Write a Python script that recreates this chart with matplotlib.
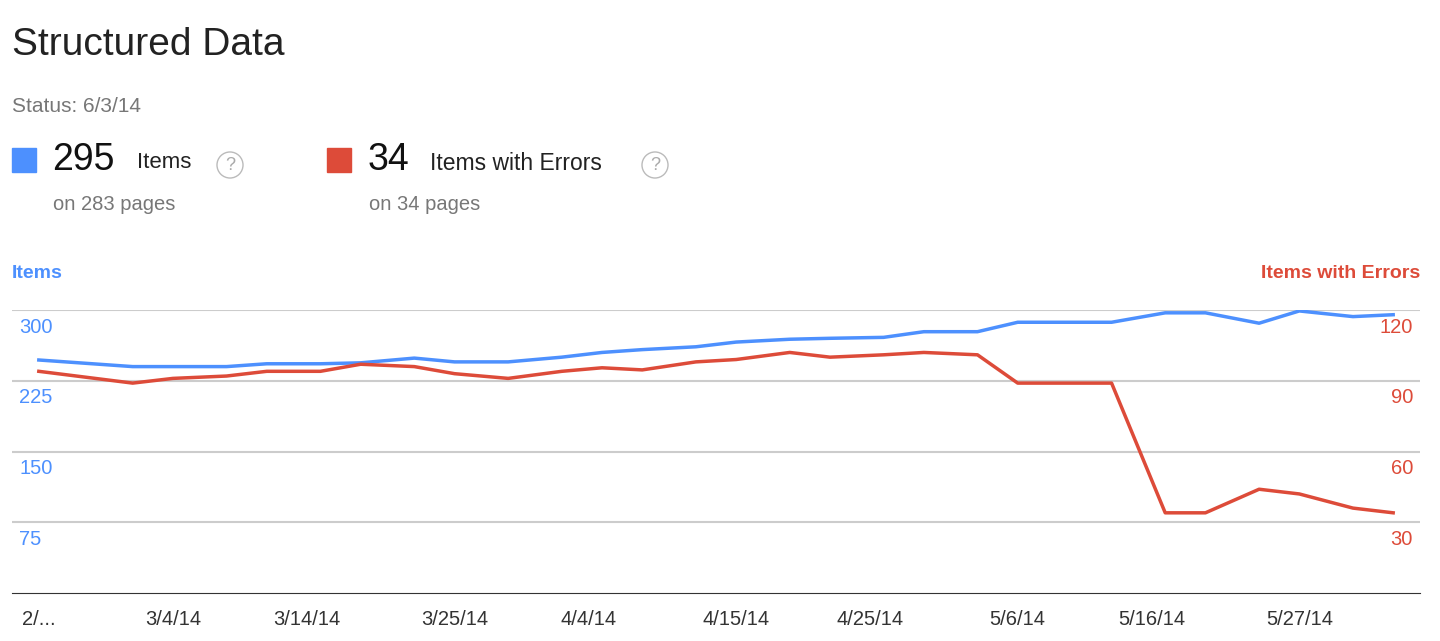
import datetime as dt
import matplotlib.pyplot as plt
from matplotlib.patches import Rectangle

plt.rcParams['font.family'] = ['Liberation Sans', 'DejaVu Sans']

start = dt.date(2014, 2, 22)
days = [0, 7, 10, 14, 17, 21, 24, 28, 31, 35, 39, 42, 45, 49, 52, 56, 59, 63, 66, 70,
        73, 80, 84, 87, 91, 94, 98, 101]
items = [247, 240, 240, 240, 243, 243, 244, 249, 245, 245, 250, 255, 258, 261, 266, 269,
         270, 271, 277, 277, 287, 287, 297, 297, 286, 299, 293, 295]
errors = [94, 89, 91, 92, 94, 94, 97, 96, 93, 91, 94, 95.5, 94.6, 98, 99, 102, 100, 101,
          102, 101, 89, 89, 34, 34, 44, 42, 36, 34]
tick_days = [0, 10, 20, 31, 41, 52, 62, 73, 83, 94]
tick_labels = ['2/...', '3/4/14', '3/14/14', '3/25/14', '4/4/14', '4/15/14', '4/25/14',
               '5/6/14', '5/16/14', '5/27/14']

blue = '#4d90fe'
red = '#dd4b39'
dates = [start + dt.timedelta(days=d) for d in days]

fig = plt.figure(figsize=(14.4, 6.41), dpi=100)
ax = fig.add_axes([12/1440, 1-593/641, 1408/1440, (593-310)/641])
ax2 = ax.twinx()

ax.plot(dates, items, color=blue, lw=2.5, zorder=3)
ax2.plot(dates, errors, color=red, lw=2.5, zorder=3)

x0 = start + dt.timedelta(days=-1.7)
x1 = start + dt.timedelta(days=103.4)
ax.set_xlim(x0, x1)
ax.set_ylim(0, 300)
ax2.set_ylim(0, 120)
for a in (ax, ax2):
    a.set_yticks([])
    for s in a.spines.values():
        s.set_visible(False)
ax.spines['bottom'].set_visible(True)
ax.spines['bottom'].set_color('#333333')
for v in [75, 150, 225, 300]:
    ax.axhline(v, color='#cccccc', lw=1.5, zorder=1)

for v in [75, 150, 225, 300]:
    ax.text(0.005, v - 8, str(v), transform=ax.get_yaxis_transform(), color=blue,
            fontsize=14.5, va='top', ha='left')
for v in [30, 60, 90, 120]:
    ax2.text(0.995, v - 3.2, str(v), transform=ax2.get_yaxis_transform(), color=red,
             fontsize=14.5, va='top', ha='right')

ax.set_xticks([start + dt.timedelta(days=d) for d in tick_days])
ax.set_xticklabels(tick_labels, fontsize=14.5, color='#333333')
ax.tick_params(axis='x', length=0, pad=12)

# header
fig.text(12/1440, 1-45/641, 'Structured Data', fontsize=28, color='#222222', va='center')
fig.text(12/1440, 1-107/641, 'Status: 6/3/14', fontsize=15, color='#777777', va='center')
fig.patches.append(Rectangle((12/1440, 1-172/641), 24/1440, 24/641,
                             transform=fig.transFigure, color=blue))
fig.text(52/1440, 1-160/641, '295', fontsize=27, color='#111111', va='center')
fig.text(137/1440, 1-163/641, 'Items', fontsize=16, color='#222222', va='center')
fig.text(230/1440, 1-165/641, '?', fontsize=13, color='#aaaaaa', va='center', ha='center',
         bbox=dict(boxstyle='circle,pad=0.25', fc='white', ec='#bbbbbb'))
fig.text(53/1440, 1-205/641, 'on 283 pages', fontsize=14.5, color='#777777', va='center')
fig.patches.append(Rectangle((327/1440, 1-172/641), 24/1440, 24/641,
                             transform=fig.transFigure, color=red))
fig.text(368/1440, 1-160/641, '34', fontsize=27, color='#111111', va='center')
fig.text(430/1440, 1-163/641, 'Items with Errors', fontsize=16.5, color='#222222', va='center')
fig.text(655/1440, 1-165/641, '?', fontsize=13, color='#aaaaaa', va='center', ha='center',
         bbox=dict(boxstyle='circle,pad=0.25', fc='white', ec='#bbbbbb'))
fig.text(369/1440, 1-205/641, 'on 34 pages', fontsize=14.5, color='#777777', va='center')

fig.text(12/1440, 1-273/641, 'Items', fontsize=14, color=blue, weight='bold', va='center')
fig.text(1420/1440, 1-273/641, 'Items with Errors', fontsize=14, color=red, weight='bold',
         va='center', ha='right')

fig.savefig('out.png', dpi=100)
